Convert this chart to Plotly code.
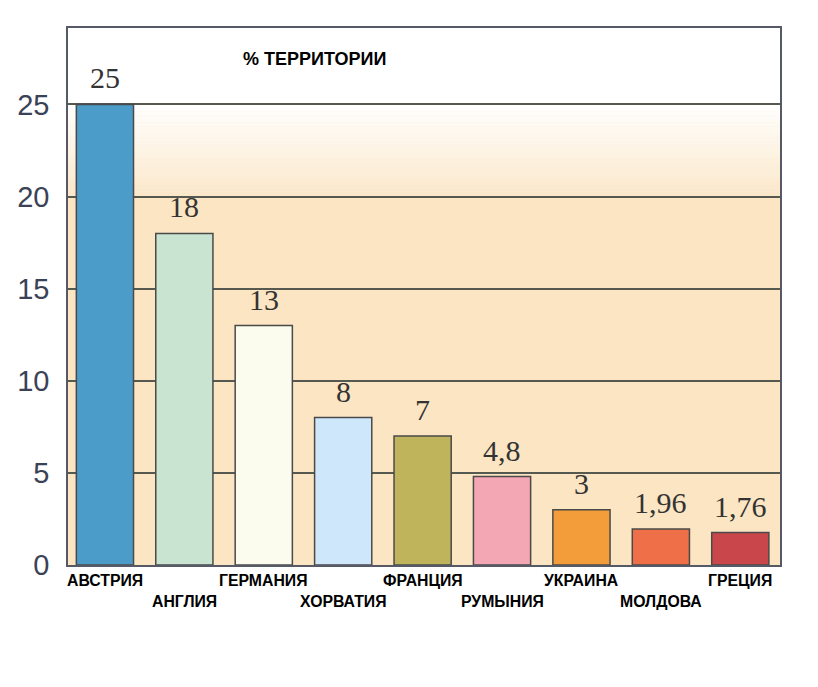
import plotly.graph_objects as go

categories = ["АВСТРИЯ", "АНГЛИЯ", "ГЕРМАНИЯ", "ХОРВАТИЯ", "ФРАНЦИЯ",
              "РУМЫНИЯ", "УКРАИНА", "МОЛДОВА", "ГРЕЦИЯ"]
values = [25, 18, 13, 8, 7, 4.8, 3, 1.96, 1.76]
value_labels = ["25", "18", "13", "8", "7", "4,8", "3", "1,96", "1,76"]
label_row = [0, 1, 0, 1, 0, 1, 0, 1, 0]
bar_colors = ["#4B9CC9", "#C9E4D0", "#FBFCEE", "#CFE7FA", "#BFB45C",
              "#F3A7B4", "#F39C3A", "#EE6F48", "#C9474A"]
y_ticks = [0, 5, 10, 15, 20, 25]
title_text = "% ТЕРРИТОРИИ"

Y_TOP = 29.15
peach = "#FBE5C3"

W, H = 818, 687
L, R, T, B = 68, 38, 28, 122
pw, ph = W - L - R, H - T - B

fig = go.Figure()
fig.add_trace(go.Bar(
    x=categories, y=values, width=0.72,
    marker=dict(color=bar_colors, line=dict(color="#4a4a4a", width=1.5)),
    hoverinfo="skip",
))

shapes = []
shapes.append(dict(type="rect", xref="paper", yref="y", x0=0, x1=1, y0=25, y1=Y_TOP,
                   fillcolor="white", line=dict(width=0), layer="below"))
n = 25
def mix(t):
    c0 = (255, 255, 255)
    c1 = (251, 232, 202)
    return "rgb(%d,%d,%d)" % tuple(round(a + (b - a) * t) for a, b in zip(c0, c1))
for i in range(n):
    y0 = 25 - 5 * (i + 1) / n
    y1 = 25 - 5 * i / n
    shapes.append(dict(type="rect", xref="paper", yref="y", x0=0, x1=1, y0=y0, y1=y1 + 0.02,
                       fillcolor=mix((i + 0.5) / n), line=dict(width=0), layer="below"))
fig.update_layout(shapes=shapes)

annotations = []
for c, v, t in zip(categories, values, value_labels):
    annotations.append(dict(x=c, y=v, xref="x", yref="y", text=t, showarrow=False,
                            yanchor="bottom", yshift=8,
                            font=dict(family="Liberation Serif", size=30, color="#333333")))
for c, r in zip(categories, label_row):
    annotations.append(dict(x=c, y=0, xref="x", yref="paper", text="<b>%s</b>" % c,
                            showarrow=False, yanchor="middle",
                            yshift=-15.5 if r == 0 else -36.5,
                            font=dict(family="Liberation Sans", size=15.8, color="#000000")))
annotations.append(dict(x=(314 - L) / pw, y=1 - (59.5 - T) / ph, xref="paper", yref="paper",
                        text="<b>%s</b>" % title_text,
                        showarrow=False, xanchor="center", yanchor="middle",
                        font=dict(family="Liberation Sans", size=18, color="#000000")))
fig.update_layout(annotations=annotations)

fig.update_layout(
    width=W, height=H,
    margin=dict(l=L, r=R, t=T, b=B, pad=0),
    paper_bgcolor="white",
    plot_bgcolor=peach,
    showlegend=False,
    xaxis=dict(range=[-0.465, 8.5], showticklabels=False, showgrid=False, zeroline=False,
               showline=True, mirror=True, linecolor="#555a66", linewidth=1.5, ticks=""),
    yaxis=dict(range=[0, Y_TOP], tickvals=y_ticks, ticktext=[str(v) for v in y_ticks],
               showgrid=True, gridcolor="#555950", gridwidth=1.5, zeroline=False,
               showline=True, mirror=True, linecolor="#555a66", linewidth=1.5, ticks="",
               ticklabelstandoff=11,
               tickfont=dict(family="Liberation Sans", size=29, color="#3b4256")),
)

fig.write_html("out.html")
